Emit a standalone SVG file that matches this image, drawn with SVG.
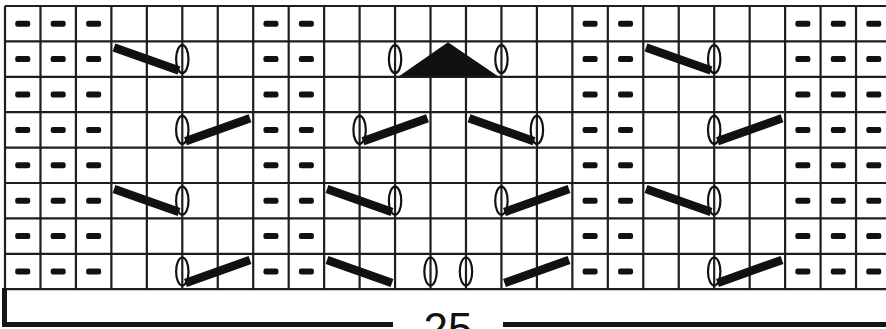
<svg xmlns="http://www.w3.org/2000/svg" xmlns:xlink="http://www.w3.org/1999/xlink" width="886" height="329" viewBox="0 0 886 329">
<style>
.g{stroke:#1e1e1e;stroke-width:2.2;fill:none}
.bar{stroke:#111;stroke-width:8.5;stroke-linecap:butt;fill:none}
.ov{stroke:#111;stroke-width:2.2;fill:none}
.br{stroke:#151515;stroke-width:5;fill:none}
.lbl{font-family:"Liberation Sans",Arial,sans-serif;font-size:44px;fill:#111;text-anchor:middle}
</style>
<defs>
<rect id="d" x="-7.5" y="-3" width="15" height="6" rx="2.2" fill="#111"/>
<g id="dc">
<use xlink:href="#d" y="23.7"/><use xlink:href="#d" y="59.1"/><use xlink:href="#d" y="94.5"/><use xlink:href="#d" y="129.9"/>
<use xlink:href="#d" y="165.3"/><use xlink:href="#d" y="200.7"/><use xlink:href="#d" y="236.1"/><use xlink:href="#d" y="271.5"/>
</g>
<ellipse id="o" cx="0" cy="0" rx="6.2" ry="14" class="ov"/>
</defs>
<rect width="886" height="329" fill="#fff"/>
<g id="grid" class="g">
<path d="M5,6H886M5,41.4H886M5,76.8H886M5,112.2H886M5,147.6H886M5,183H886M5,218.4H886M5,253.8H886M5,289.2H886"/>
<path d="M5,6V289.2M40.46,6V289.2M75.92,6V289.2M111.38,6V289.2M146.84,6V289.2M182.3,6V289.2M217.76,6V289.2M253.22,6V289.2M288.68,6V289.2M324.14,6V289.2M359.6,6V289.2M395.06,6V289.2M430.52,6V289.2M465.98,6V289.2M501.44,6V289.2M536.9,6V289.2M572.36,6V289.2M607.82,6V289.2M643.28,6V289.2M678.74,6V289.2M714.2,6V289.2M749.66,6V289.2M785.12,6V289.2M820.58,6V289.2M856.04,6V289.2"/>
</g>
<g id="purl">
<use xlink:href="#dc" x="22.73"/><use xlink:href="#dc" x="58.19"/><use xlink:href="#dc" x="93.65"/>
<use xlink:href="#dc" x="270.95"/><use xlink:href="#dc" x="306.41"/>
<use xlink:href="#dc" x="590.09"/><use xlink:href="#dc" x="625.55"/>
<use xlink:href="#dc" x="802.85"/><use xlink:href="#dc" x="838.31"/><use xlink:href="#dc" x="873.77"/>
</g>
<g id="row2">
<path class="bar" d="M114,47.5L179,70.5"/><use xlink:href="#o" x="182.3" y="59.1"/>
<use xlink:href="#o" x="395.06" y="59.1"/>
<polygon points="399,76.2 448,42.2 498,76.2" fill="#111"/>
<use xlink:href="#o" x="501.44" y="59.1"/>
<path class="bar" d="M646,47.5L711,70.5"/><use xlink:href="#o" x="714.2" y="59.1"/>
</g>
<g id="row4">
<use xlink:href="#o" x="182.3" y="129.9"/><path class="bar" d="M185.5,141.3L250,118.3"/>
<use xlink:href="#o" x="359.6" y="129.9"/><path class="bar" d="M363,141.3L427.5,118.3"/>
<path class="bar" d="M469,118.3L534,141.3"/><use xlink:href="#o" x="536.9" y="129.9"/>
<use xlink:href="#o" x="714.2" y="129.9"/><path class="bar" d="M717.5,141.3L782,118.3"/>
</g>
<g id="row6">
<path class="bar" d="M114,189.1L179,212.1"/><use xlink:href="#o" x="182.3" y="200.7"/>
<path class="bar" d="M327,189.1L392,212.1"/><use xlink:href="#o" x="395.06" y="200.7"/>
<use xlink:href="#o" x="501.44" y="200.7"/><path class="bar" d="M504.5,212.1L569,189.1"/>
<path class="bar" d="M646,189.1L711,212.1"/><use xlink:href="#o" x="714.2" y="200.7"/>
</g>
<g id="row8">
<use xlink:href="#o" x="182.3" y="271.5"/><path class="bar" d="M185.5,282.9L250,259.9"/>
<path class="bar" d="M327,259.9L392,282.9"/>
<use xlink:href="#o" x="430.52" y="271.5"/><use xlink:href="#o" x="465.98" y="271.5"/>
<path class="bar" d="M504.5,282.9L569,259.9"/>
<use xlink:href="#o" x="714.2" y="271.5"/><path class="bar" d="M717.5,282.9L782,259.9"/>
</g>
<g id="bracket">
<path class="br" d="M4.5,288V324.5H393M503,324.5H886"/>
<text class="lbl" x="448" y="344">25</text>
</g>
</svg>
